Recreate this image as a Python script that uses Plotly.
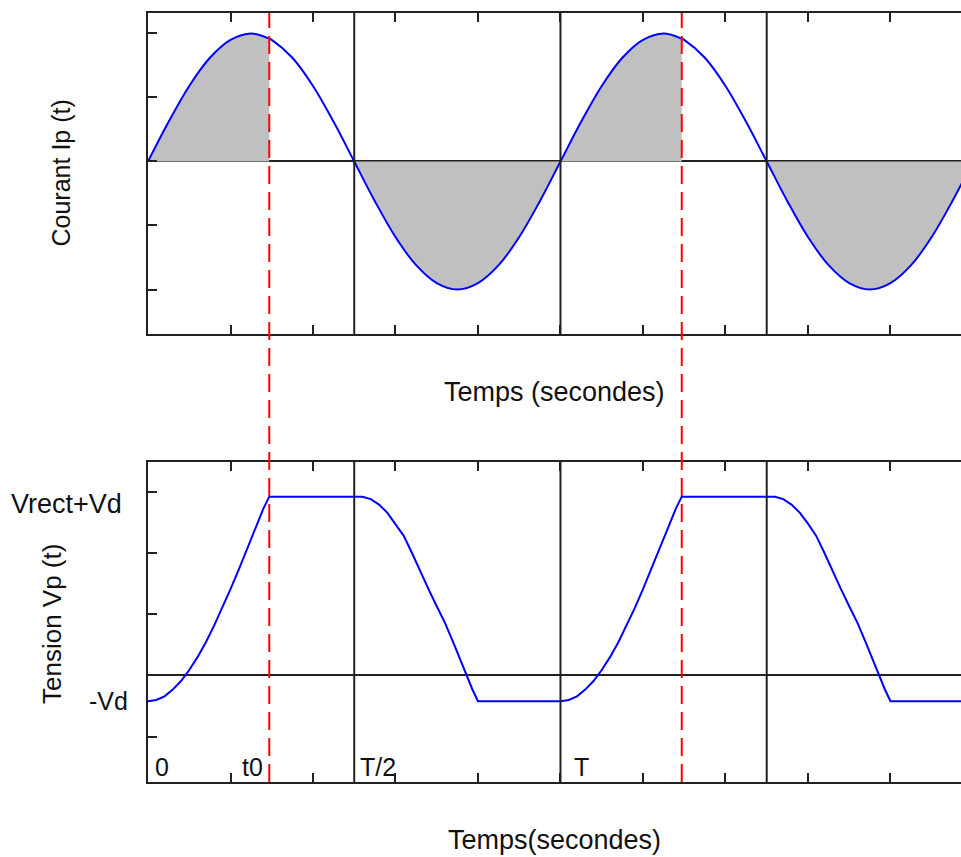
import plotly.graph_objects as go

# ---------------- data ----------------
# time in tick units (period T = 5 units)
T_PERIOD = 5.0
T0 = 1.47

t_top = [0, 0.25, 0.5, 0.75, 1.0, 1.25, 1.47, 1.5, 1.75, 2.0, 2.25, 2.5, 2.75, 3.0,
         3.25, 3.5, 3.75, 4.0, 4.25, 4.5, 4.75, 5.0, 5.25, 5.5, 5.75, 6.0, 6.25,
         6.47, 6.5, 6.75, 7.0, 7.25, 7.5, 7.75, 8.0, 8.25, 8.5, 8.75, 9.0, 9.25,
         9.5, 9.75, 10.0]
i_top = [0, 0.62, 1.18, 1.62, 1.90, 2.00, 1.92, 1.90, 1.62, 1.18, 0.62, 0, -0.62, -1.18,
         -1.62, -1.90, -2.00, -1.90, -1.62, -1.18, -0.62, 0, 0.62, 1.18, 1.62, 1.90, 2.00,
         1.92, 1.90, 1.62, 1.18, 0.62, 0, -0.62, -1.18, -1.62, -1.90, -2.00, -1.90, -1.62,
         -1.18, -0.62, 0]

t_bot = [0, 0.1, 0.2, 0.3, 0.4, 0.5, 0.6, 0.7, 0.8, 0.9, 1.0, 1.1, 1.2, 1.3, 1.4, 1.47,
         2.6, 2.7, 2.8, 2.9, 3.0, 3.1, 3.2, 3.3, 3.4, 3.5, 3.6, 3.7, 3.8, 3.86, 3.93, 4.0,
         5.0, 5.1, 5.2, 5.3, 5.4, 5.5, 5.6, 5.7, 5.8, 5.9, 6.0, 6.1, 6.2, 6.3, 6.4, 6.47,
         7.6, 7.7, 7.8, 7.9, 8.0, 8.1, 8.2, 8.3, 8.4, 8.5, 8.6, 8.7, 8.8, 8.86, 8.93, 9.0,
         10.0]
v_bot = [-0.42, -0.40, -0.34, -0.23, -0.09, 0.09, 0.30, 0.54, 0.81, 1.10, 1.41, 1.73, 2.06, 2.40, 2.73, 2.92,
         2.92, 2.88, 2.79, 2.66, 2.48, 2.28, 2.00, 1.70, 1.41, 1.13, 0.86, 0.54, 0.20, 0.0, -0.22, -0.42,
         -0.42, -0.40, -0.34, -0.23, -0.09, 0.09, 0.30, 0.54, 0.81, 1.10, 1.41, 1.73, 2.06, 2.40, 2.73, 2.92,
         2.92, 2.88, 2.79, 2.66, 2.48, 2.28, 2.00, 1.70, 1.41, 1.13, 0.86, 0.54, 0.20, 0.0, -0.22, -0.42,
         -0.42]

V_HIGH = 2.92   # Vrect+Vd
V_LOW = -0.42   # -Vd

# shaded intervals of the current curve
shade_intervals = [(0, T0), (2.5, 5.0), (5.0, 5.0 + T0), (7.5, 10.0)]
# vertical reference lines
black_lines = [2.5, 5.0, 7.5]
red_lines = [T0, 5.0 + T0]

x_labels = ["0", "t0", "T/2", "T"]
x_label_pos = [0, T0, 2.5, 5.0]
y_labels = ["Vrect+Vd", "-Vd"]
y_label_pos = [V_HIGH, V_LOW]

# ---------------- styling ----------------
FONT = "Liberation Sans, Arial, sans-serif"
FS = 25
AX = "#222222"
BLUE = "#0000FF"
GREY = "#C0C0C0"
RED = "#FF0000"

fig = go.Figure()

# shaded areas
for a, b in shade_intervals:
    xs = [t for t in t_top if a - 1e-9 <= t <= b + 1e-9]
    ys = [i_top[t_top.index(t)] for t in xs]
    fig.add_trace(go.Scatter(x=xs, y=ys, mode="lines", fill="tozeroy",
                             fillcolor=GREY, line=dict(width=0, color=GREY, shape="spline"),
                             xaxis="x", yaxis="y", hoverinfo="skip", showlegend=False))

fig.add_trace(go.Scatter(x=t_top, y=i_top, mode="lines",
                         line=dict(color=BLUE, width=2, shape="spline"),
                         xaxis="x", yaxis="y", showlegend=False))
fig.add_trace(go.Scatter(x=t_bot, y=v_bot, mode="lines",
                         line=dict(color=BLUE, width=2),
                         xaxis="x2", yaxis="y2", showlegend=False))

shapes = []
for xv in black_lines:
    for xr, yr in (("x", "y domain"), ("x2", "y2 domain")):
        shapes.append(dict(type="line", xref=xr, yref=yr, x0=xv, x1=xv, y0=0, y1=1,
                           line=dict(color=AX, width=2), layer="above"))
for xv in red_lines:
    shapes.append(dict(type="line", xref="x", yref="paper", x0=xv, x1=xv, y0=0, y1=1,
                       line=dict(color=RED, width=2, dash="18px,8px"), layer="above"))

common_x = dict(range=[0, 9.855], tickvals=list(range(0, 10)), ticks="inside",
                ticklen=9, tickwidth=2, tickcolor=AX, showline=True, linewidth=2,
                linecolor=AX, mirror="ticks", showgrid=False, zeroline=False,
                showticklabels=False)
common_y = dict(ticks="inside", ticklen=9, tickwidth=2, tickcolor=AX, showline=True,
                linewidth=2, linecolor=AX, mirror=False, showgrid=False,
                zeroline=True, zerolinecolor=AX, zerolinewidth=2, showticklabels=False)

annotations = []
# axis titles
annotations.append(dict(text="Temps (secondes)", xref="paper", x=0.5, yref="y domain", y=0,
                        yshift=-58, showarrow=False, xanchor="center", yanchor="middle",
                        font=dict(size=27)))
annotations.append(dict(text="Temps(secondes)", xref="paper", x=0.5, yref="y2 domain", y=0,
                        yshift=-58, showarrow=False, xanchor="center", yanchor="middle",
                        font=dict(size=27)))
annotations.append(dict(text="Courant Ip (t)", xref="paper", x=0, xshift=-87, yref="y domain",
                        y=0.5, textangle=-90, showarrow=False, xanchor="center", yanchor="middle"))
annotations.append(dict(text="Tension Vp (t)", xref="paper", x=0, xshift=-96, yref="y2 domain",
                        y=0.5, yshift=-2, textangle=-90, showarrow=False, xanchor="center",
                        yanchor="middle", font=dict(size=26)))
# y value labels
for txt, yv, xs, ys, fs in zip(y_labels, y_label_pos, [-24, -18], [-7, 0], [27, 25]):
    annotations.append(dict(text=txt, xref="paper", x=0, xshift=xs, yref="y2", y=yv, yshift=ys,
                            showarrow=False, xanchor="right", yanchor="middle",
                            font=dict(size=fs)))
# x value labels inside the lower plot
for txt, xv, xs, anc in zip(x_labels, x_label_pos, [5, -4, 4, 12], ["left", "right", "left", "left"]):
    annotations.append(dict(text=txt, xref="x2", x=xv, xshift=xs, yref="y2 domain", y=0,
                            yshift=15, showarrow=False, xanchor=anc, yanchor="middle"))

fig.update_layout(
    width=961, height=857,
    margin=dict(l=148, r=0, t=13, b=75, pad=0),
    paper_bgcolor="white", plot_bgcolor="white",
    font=dict(family=FONT, size=FS, color="#111111"),
    xaxis=dict(domain=[0, 1], anchor="y", **common_x),
    yaxis=dict(domain=[0.5826, 1], anchor="x", range=[-2.695, 2.32],
               tickvals=[-2, -1, 0, 1, 2], **common_y),
    xaxis2=dict(domain=[0, 1], anchor="y2", **common_x),
    yaxis2=dict(domain=[0, 0.4161], anchor="x2", range=[-1.739, 3.486],
                tickvals=[-1, 0, 1, 2, 3], **common_y),
    shapes=shapes,
    annotations=annotations,
    showlegend=False,
)

fig.write_html("out.html")
